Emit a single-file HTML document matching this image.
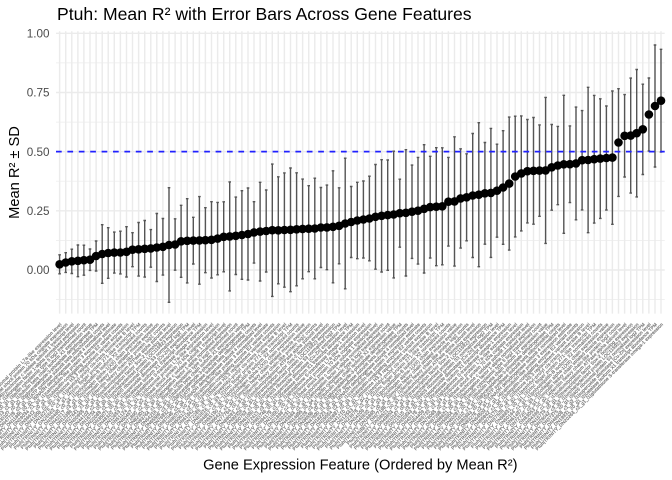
<!DOCTYPE html>
<html><head><meta charset="utf-8"><style>html,body{margin:0;padding:0;background:#fff}svg{display:block}</style></head>
<body>
<svg xmlns="http://www.w3.org/2000/svg" width="672" height="480" viewBox="0 0 672 480" font-family="'Liberation Sans', Arial, sans-serif">
<rect width="672" height="480" fill="#fff"/>
<path d="M56 299.6H664.7M56 240.4H664.7M56 181.2H664.7M56 122.1H664.7M56 62.9H664.7" stroke="#EBEBEB" stroke-width="0.71" fill="none"/>
<path d="M56 270H664.7M56 210.8H664.7M56 151.7H664.7M56 92.5H664.7M56 33.3H664.7" stroke="#EBEBEB" stroke-width="1.42" fill="none"/>
<path stroke="#EBEBEB" stroke-width="1.42" fill="none" d="M59.6 31.3V313.6M65.7 31.3V313.6M71.8 31.3V313.6M77.9 31.3V313.6M83.9 31.3V313.6M90 31.3V313.6M96.1 31.3V313.6M102.2 31.3V313.6M108.2 31.3V313.6M114.3 31.3V313.6M120.4 31.3V313.6M126.5 31.3V313.6M132.5 31.3V313.6M138.6 31.3V313.6M144.7 31.3V313.6M150.8 31.3V313.6M156.8 31.3V313.6M162.9 31.3V313.6M169 31.3V313.6M175.1 31.3V313.6M181.1 31.3V313.6M187.2 31.3V313.6M193.3 31.3V313.6M199.4 31.3V313.6M205.4 31.3V313.6M211.5 31.3V313.6M217.6 31.3V313.6M223.7 31.3V313.6M229.7 31.3V313.6M235.8 31.3V313.6M241.9 31.3V313.6M248 31.3V313.6M254 31.3V313.6M260.1 31.3V313.6M266.2 31.3V313.6M272.3 31.3V313.6M278.3 31.3V313.6M284.4 31.3V313.6M290.5 31.3V313.6M296.6 31.3V313.6M302.6 31.3V313.6M308.7 31.3V313.6M314.8 31.3V313.6M320.9 31.3V313.6M326.9 31.3V313.6M333 31.3V313.6M339.1 31.3V313.6M345.2 31.3V313.6M351.2 31.3V313.6M357.3 31.3V313.6M363.4 31.3V313.6M369.4 31.3V313.6M375.5 31.3V313.6M381.6 31.3V313.6M387.7 31.3V313.6M393.7 31.3V313.6M399.8 31.3V313.6M405.9 31.3V313.6M412 31.3V313.6M418 31.3V313.6M424.1 31.3V313.6M430.2 31.3V313.6M436.3 31.3V313.6M442.3 31.3V313.6M448.4 31.3V313.6M454.5 31.3V313.6M460.6 31.3V313.6M466.6 31.3V313.6M472.7 31.3V313.6M478.8 31.3V313.6M484.9 31.3V313.6M490.9 31.3V313.6M497 31.3V313.6M503.1 31.3V313.6M509.2 31.3V313.6M515.2 31.3V313.6M521.3 31.3V313.6M527.4 31.3V313.6M533.5 31.3V313.6M539.5 31.3V313.6M545.6 31.3V313.6M551.7 31.3V313.6M557.8 31.3V313.6M563.8 31.3V313.6M569.9 31.3V313.6M576 31.3V313.6M582.1 31.3V313.6M588.1 31.3V313.6M594.2 31.3V313.6M600.3 31.3V313.6M606.4 31.3V313.6M612.4 31.3V313.6M618.5 31.3V313.6M624.6 31.3V313.6M630.7 31.3V313.6M636.7 31.3V313.6M642.8 31.3V313.6M648.9 31.3V313.6M655 31.3V313.6M661 31.3V313.6"/>
<path stroke="#555555" stroke-width="1.4" fill="none" d="
M59.6 254.8V273.8m-1.3 0h2.6M59.6 254.8m-1.3 0h2.6
M65.7 252.7V272.4m-1.3 0h2.6M65.7 252.7m-1.3 0h2.6
M71.8 249.2V273.5m-1.3 0h2.6M71.8 249.2m-1.3 0h2.6
M77.9 245V276.7m-1.3 0h2.6M77.9 245m-1.3 0h2.6
M83.9 245.2V275.2m-1.3 0h2.6M83.9 245.2m-1.3 0h2.6
M90 249V270.4m-1.3 0h2.6M90 249m-1.3 0h2.6
M96.1 241V271m-1.3 0h2.6M96.1 241m-1.3 0h2.6
M102.2 224.7V283.3m-1.3 0h2.6M102.2 224.7m-1.3 0h2.6
M108.2 227.7V278.3m-1.3 0h2.6M108.2 227.7m-1.3 0h2.6
M114.3 232.1V273.1m-1.3 0h2.6M114.3 232.1m-1.3 0h2.6
M120.4 231.2V273.9m-1.3 0h2.6M120.4 231.2m-1.3 0h2.6
M126.5 226.7V277m-1.3 0h2.6M126.5 226.7m-1.3 0h2.6
M132.5 232.7V266.7m-1.3 0h2.6M132.5 232.7m-1.3 0h2.6
M138.6 222.5V276.1m-1.3 0h2.6M138.6 222.5m-1.3 0h2.6
M144.7 220.5V277.1m-1.3 0h2.6M144.7 220.5m-1.3 0h2.6
M150.8 229.6V267.2m-1.3 0h2.6M150.8 229.6m-1.3 0h2.6
M156.8 213.5V281.5m-1.3 0h2.6M156.8 213.5m-1.3 0h2.6
M162.9 218.5V275.1m-1.3 0h2.6M162.9 218.5m-1.3 0h2.6
M169 187.7V302.3m-1.3 0h2.6M169 187.7m-1.3 0h2.6
M175.1 218.8V270.2m-1.3 0h2.6M175.1 218.8m-1.3 0h2.6
M181.1 205.3V277.3m-1.3 0h2.6M181.1 205.3m-1.3 0h2.6
M187.2 198.7V282.9m-1.3 0h2.6M187.2 198.7m-1.3 0h2.6
M193.3 217.3V264m-1.3 0h2.6M193.3 217.3m-1.3 0h2.6
M199.4 196.6V284.2m-1.3 0h2.6M199.4 196.6m-1.3 0h2.6
M205.4 207.7V272.7m-1.3 0h2.6M205.4 207.7m-1.3 0h2.6
M211.5 201.7V278m-1.3 0h2.6M211.5 201.7m-1.3 0h2.6
M217.6 202.4V274.8m-1.3 0h2.6M217.6 202.4m-1.3 0h2.6
M223.7 201.8V271.8m-1.3 0h2.6M223.7 201.8m-1.3 0h2.6
M229.7 181.9V290.9m-1.3 0h2.6M229.7 181.9m-1.3 0h2.6
M235.8 197.1V274.5m-1.3 0h2.6M235.8 197.1m-1.3 0h2.6
M241.9 190.7V279.3m-1.3 0h2.6M241.9 190.7m-1.3 0h2.6
M248 188V280m-1.3 0h2.6M248 188m-1.3 0h2.6
M254 201.7V263.1m-1.3 0h2.6M254 201.7m-1.3 0h2.6
M260.1 182.3V281m-1.3 0h2.6M260.1 182.3m-1.3 0h2.6
M266.2 190V272m-1.3 0h2.6M266.2 190m-1.3 0h2.6
M272.3 164.1V296.4m-1.3 0h2.6M272.3 164.1m-1.3 0h2.6
M278.3 176.8V283.8m-1.3 0h2.6M278.3 176.8m-1.3 0h2.6
M284.4 172.9V287.2m-1.3 0h2.6M284.4 172.9m-1.3 0h2.6
M290.5 168V291.7m-1.3 0h2.6M290.5 168m-1.3 0h2.6
M296.6 172.8V285.8m-1.3 0h2.6M296.6 172.8m-1.3 0h2.6
M302.6 179.1V278.8m-1.3 0h2.6M302.6 179.1m-1.3 0h2.6
M308.7 185.7V271.7m-1.3 0h2.6M308.7 185.7m-1.3 0h2.6
M314.8 178.2V278.8m-1.3 0h2.6M314.8 178.2m-1.3 0h2.6
M320.9 187.5V267.5m-1.3 0h2.6M320.9 187.5m-1.3 0h2.6
M326.9 185.1V269.7m-1.3 0h2.6M326.9 185.1m-1.3 0h2.6
M333 170.8V282.8m-1.3 0h2.6M333 170.8m-1.3 0h2.6
M339.1 187.8V263.8m-1.3 0h2.6M339.1 187.8m-1.3 0h2.6
M345.2 158.2V288.8m-1.3 0h2.6M345.2 158.2m-1.3 0h2.6
M351.2 186.5V257.5m-1.3 0h2.6M351.2 186.5m-1.3 0h2.6
M357.3 182.3V258.7m-1.3 0h2.6M357.3 182.3m-1.3 0h2.6
M363.4 181V258m-1.3 0h2.6M363.4 181m-1.3 0h2.6
M369.4 176.2V260.8m-1.3 0h2.6M369.4 176.2m-1.3 0h2.6
M375.5 164.5V269.2m-1.3 0h2.6M375.5 164.5m-1.3 0h2.6
M381.6 159.7V272m-1.3 0h2.6M381.6 159.7m-1.3 0h2.6
M387.7 160V270.3m-1.3 0h2.6M387.7 160m-1.3 0h2.6
M393.7 151.2V277.9m-1.3 0h2.6M393.7 151.2m-1.3 0h2.6
M399.8 179.2V247.2m-1.3 0h2.6M399.8 179.2m-1.3 0h2.6
M405.9 149.7V276m-1.3 0h2.6M405.9 149.7m-1.3 0h2.6
M412 165.1V258.4m-1.3 0h2.6M412 165.1m-1.3 0h2.6
M418 157.4V264.1m-1.3 0h2.6M418 157.4m-1.3 0h2.6
M424.1 144.7V273m-1.3 0h2.6M424.1 144.7m-1.3 0h2.6
M430.2 156.3V258m-1.3 0h2.6M430.2 156.3m-1.3 0h2.6
M436.3 147.7V265.7m-1.3 0h2.6M436.3 147.7m-1.3 0h2.6
M442.3 147.8V264.8m-1.3 0h2.6M442.3 147.8m-1.3 0h2.6
M448.4 157.4V246.1m-1.3 0h2.6M448.4 157.4m-1.3 0h2.6
M454.5 136.8V266.1m-1.3 0h2.6M454.5 136.8m-1.3 0h2.6
M460.6 148.8V248.1m-1.3 0h2.6M460.6 148.8m-1.3 0h2.6
M466.6 153.8V240.8m-1.3 0h2.6M466.6 153.8m-1.3 0h2.6
M472.7 133.5V257.5m-1.3 0h2.6M472.7 133.5m-1.3 0h2.6
M478.8 122.7V266.7m-1.3 0h2.6M478.8 122.7m-1.3 0h2.6
M484.9 142.5V244.2m-1.3 0h2.6M484.9 142.5m-1.3 0h2.6
M490.9 128.4V257.4m-1.3 0h2.6M490.9 128.4m-1.3 0h2.6
M497 144.2V237.2m-1.3 0h2.6M497 144.2m-1.3 0h2.6
M503.1 130.7V244.3m-1.3 0h2.6M503.1 130.7m-1.3 0h2.6
M509.2 117.1V250.1m-1.3 0h2.6M509.2 117.1m-1.3 0h2.6
M515.2 116.2V236.9m-1.3 0h2.6M515.2 116.2m-1.3 0h2.6
M521.3 115.9V230.9m-1.3 0h2.6M521.3 115.9m-1.3 0h2.6
M527.4 119.5V222.9m-1.3 0h2.6M527.4 119.5m-1.3 0h2.6
M533.5 117.5V224.2m-1.3 0h2.6M533.5 117.5m-1.3 0h2.6
M539.5 124.9V216.3m-1.3 0h2.6M539.5 124.9m-1.3 0h2.6
M545.6 97.4V243.4m-1.3 0h2.6M545.6 97.4m-1.3 0h2.6
M551.7 124.5V210.2m-1.3 0h2.6M551.7 124.5m-1.3 0h2.6
M557.8 126.4V204.7m-1.3 0h2.6M557.8 126.4m-1.3 0h2.6
M563.8 95.3V233.3m-1.3 0h2.6M563.8 95.3m-1.3 0h2.6
M569.9 125.9V202.6m-1.3 0h2.6M569.9 125.9m-1.3 0h2.6
M576 107.1V219.8m-1.3 0h2.6M576 107.1m-1.3 0h2.6
M582.1 110.6V209.9m-1.3 0h2.6M582.1 110.6m-1.3 0h2.6
M588.1 87.3V232.7m-1.3 0h2.6M588.1 87.3m-1.3 0h2.6
M594.2 95.4V223.1m-1.3 0h2.6M594.2 95.4m-1.3 0h2.6
M600.3 98.8V218.4m-1.3 0h2.6M600.3 98.8m-1.3 0h2.6
M606.4 106V210m-1.3 0h2.6M606.4 106m-1.3 0h2.6
M612.4 91V224.3m-1.3 0h2.6M612.4 91m-1.3 0h2.6
M618.5 88.7V196.4m-1.3 0h2.6M618.5 88.7m-1.3 0h2.6
M624.6 94.6V177m-1.3 0h2.6M624.6 94.6m-1.3 0h2.6
M630.7 78.1V193.1m-1.3 0h2.6M630.7 78.1m-1.3 0h2.6
M636.7 69.5V196.9m-1.3 0h2.6M636.7 69.5m-1.3 0h2.6
M642.8 84.2V174.5m-1.3 0h2.6M642.8 84.2m-1.3 0h2.6
M648.9 78V151m-1.3 0h2.6M648.9 78m-1.3 0h2.6
M655 45V167m-1.3 0h2.6M655 45m-1.3 0h2.6
M661 49.3V152.1m-1.3 0h2.6M661 49.3m-1.3 0h2.6"/>
<g fill="#000">
<circle cx="59.6" cy="264.3" r="4.3"/><circle cx="65.7" cy="262.5" r="4.3"/><circle cx="71.8" cy="261.3" r="4.3"/><circle cx="77.9" cy="260.8" r="4.3"/><circle cx="83.9" cy="260.2" r="4.3"/><circle cx="90" cy="259.7" r="4.3"/><circle cx="96.1" cy="256" r="4.3"/><circle cx="102.2" cy="254" r="4.3"/><circle cx="108.2" cy="253" r="4.3"/><circle cx="114.3" cy="252.6" r="4.3"/>
<circle cx="120.4" cy="252.5" r="4.3"/><circle cx="126.5" cy="251.8" r="4.3"/><circle cx="132.5" cy="249.7" r="4.3"/><circle cx="138.6" cy="249.3" r="4.3"/><circle cx="144.7" cy="248.8" r="4.3"/><circle cx="150.8" cy="248.4" r="4.3"/><circle cx="156.8" cy="247.5" r="4.3"/><circle cx="162.9" cy="246.8" r="4.3"/><circle cx="169" cy="245" r="4.3"/><circle cx="175.1" cy="244.5" r="4.3"/>
<circle cx="181.1" cy="241.3" r="4.3"/><circle cx="187.2" cy="240.8" r="4.3"/><circle cx="193.3" cy="240.6" r="4.3"/><circle cx="199.4" cy="240.4" r="4.3"/><circle cx="205.4" cy="240.2" r="4.3"/><circle cx="211.5" cy="239.8" r="4.3"/><circle cx="217.6" cy="238.6" r="4.3"/><circle cx="223.7" cy="236.8" r="4.3"/><circle cx="229.7" cy="236.4" r="4.3"/><circle cx="235.8" cy="235.8" r="4.3"/>
<circle cx="241.9" cy="235" r="4.3"/><circle cx="248" cy="234" r="4.3"/><circle cx="254" cy="232.4" r="4.3"/><circle cx="260.1" cy="231.6" r="4.3"/><circle cx="266.2" cy="231" r="4.3"/><circle cx="272.3" cy="230.2" r="4.3"/><circle cx="278.3" cy="230.3" r="4.3"/><circle cx="284.4" cy="230" r="4.3"/><circle cx="290.5" cy="229.8" r="4.3"/><circle cx="296.6" cy="229.3" r="4.3"/>
<circle cx="302.6" cy="228.9" r="4.3"/><circle cx="308.7" cy="228.7" r="4.3"/><circle cx="314.8" cy="228.5" r="4.3"/><circle cx="320.9" cy="227.5" r="4.3"/><circle cx="326.9" cy="227.4" r="4.3"/><circle cx="333" cy="226.8" r="4.3"/><circle cx="339.1" cy="225.8" r="4.3"/><circle cx="345.2" cy="223.5" r="4.3"/><circle cx="351.2" cy="222" r="4.3"/><circle cx="357.3" cy="220.5" r="4.3"/>
<circle cx="363.4" cy="219.5" r="4.3"/><circle cx="369.4" cy="218.5" r="4.3"/><circle cx="375.5" cy="216.8" r="4.3"/><circle cx="381.6" cy="215.8" r="4.3"/><circle cx="387.7" cy="215.1" r="4.3"/><circle cx="393.7" cy="214.5" r="4.3"/><circle cx="399.8" cy="213.2" r="4.3"/><circle cx="405.9" cy="212.8" r="4.3"/><circle cx="412" cy="211.7" r="4.3"/><circle cx="418" cy="210.7" r="4.3"/>
<circle cx="424.1" cy="208.8" r="4.3"/><circle cx="430.2" cy="207.1" r="4.3"/><circle cx="436.3" cy="206.7" r="4.3"/><circle cx="442.3" cy="206.3" r="4.3"/><circle cx="448.4" cy="201.7" r="4.3"/><circle cx="454.5" cy="201.4" r="4.3"/><circle cx="460.6" cy="198.4" r="4.3"/><circle cx="466.6" cy="197.3" r="4.3"/><circle cx="472.7" cy="195.5" r="4.3"/><circle cx="478.8" cy="194.7" r="4.3"/>
<circle cx="484.9" cy="193.3" r="4.3"/><circle cx="490.9" cy="192.9" r="4.3"/><circle cx="497" cy="190.7" r="4.3"/><circle cx="503.1" cy="187.5" r="4.3"/><circle cx="509.2" cy="183.6" r="4.3"/><circle cx="515.2" cy="176.5" r="4.3"/><circle cx="521.3" cy="173.4" r="4.3"/><circle cx="527.4" cy="171.2" r="4.3"/><circle cx="533.5" cy="170.8" r="4.3"/><circle cx="539.5" cy="170.6" r="4.3"/>
<circle cx="545.6" cy="170.4" r="4.3"/><circle cx="551.7" cy="167.3" r="4.3"/><circle cx="557.8" cy="165.5" r="4.3"/><circle cx="563.8" cy="164.3" r="4.3"/><circle cx="569.9" cy="164.2" r="4.3"/><circle cx="576" cy="163.4" r="4.3"/><circle cx="582.1" cy="160.2" r="4.3"/><circle cx="588.1" cy="160" r="4.3"/><circle cx="594.2" cy="159.2" r="4.3"/><circle cx="600.3" cy="158.6" r="4.3"/>
<circle cx="606.4" cy="158" r="4.3"/><circle cx="612.4" cy="157.6" r="4.3"/><circle cx="618.5" cy="142.5" r="4.3"/><circle cx="624.6" cy="135.8" r="4.3"/><circle cx="630.7" cy="135.6" r="4.3"/><circle cx="636.7" cy="133.2" r="4.3"/><circle cx="642.8" cy="129.3" r="4.3"/><circle cx="648.9" cy="114.5" r="4.3"/><circle cx="655" cy="106" r="4.3"/><circle cx="661" cy="100.7" r="4.3"/>
</g>
<path d="M56 151.6H664.7" stroke="#2020ff" stroke-width="1.7" stroke-dasharray="5.7 5.7" fill="none"/>
<g fill="#4D4D4D" font-size="11.7" text-anchor="end">
<text x="49.5" y="37.5">1.00</text>
<text x="49.5" y="96.7">0.75</text>
<text x="49.5" y="155.9">0.50</text>
<text x="49.5" y="215">0.25</text>
<text x="49.5" y="274.2">0.00</text>
</g>
<text x="57" y="20" font-size="17.6" fill="#000">Ptuh: Mean R² with Error Bars Across Gene Features</text>
<text transform="translate(19 172.5) rotate(-90)" text-anchor="middle" font-size="14.67" fill="#000">Mean R² ± SD</text>
<text x="360.3" y="469.5" text-anchor="middle" font-size="14.67" fill="#000">Gene Expression Feature (Ordered by Mean R²)</text>
<g fill="#4a4a4a" font-size="4.6" text-anchor="end" stroke="#8a8a8a" stroke-width="0.25">
<text transform="translate(59.6 322.5) rotate(-45)" y="3.2" textLength="176" lengthAdjust="spacing">Ptuh|TRINITY_DN10234_c0_g1_i2|ribosomal protein L7a-like expression level</text>
<text transform="translate(65.7 322.5) rotate(-45)" y="3.2" textLength="177" lengthAdjust="spacing">Ptuh|TRINITY_DN20871_c1_g2_i1|heat shock protein 70 kDa cognate expression</text>
<text transform="translate(71.8 322.5) rotate(-45)" y="3.2" textLength="175" lengthAdjust="spacing">Ptuh|TRINITY_DN31455_c0_g3_i4|cytochrome c oxidase subunit 1 transcript level</text>
<text transform="translate(77.9 322.5) rotate(-45)" y="3.2" textLength="178" lengthAdjust="spacing">Ptuh|TRINITY_DN40012_c2_g1_i1|elongation factor 1-alpha normalized expression</text>
<text transform="translate(83.9 322.5) rotate(-45)" y="3.2" textLength="176" lengthAdjust="spacing">Ptuh|TRINITY_DN15590_c0_g1_i3|actin cytoplasmic type 5 log2 transformed count</text>
<text transform="translate(90 322.5) rotate(-45)" y="3.2" textLength="177" lengthAdjust="spacing">Ptuh|TRINITY_DN28813_c1_g1_i1|tubulin beta chain isoform X1 expression value</text>
<text transform="translate(96.1 322.5) rotate(-45)" y="3.2" textLength="175" lengthAdjust="spacing">Ptuh|TRINITY_DN33107_c0_g2_i2|glyceraldehyde-3-phosphate dehydrogenase TPM</text>
<text transform="translate(102.2 322.5) rotate(-45)" y="3.2" textLength="178" lengthAdjust="spacing">Ptuh|TRINITY_DN47729_c3_g1_i1|ATP synthase subunit beta mitochondrial counts</text>
<text transform="translate(108.2 322.5) rotate(-45)" y="3.2" textLength="176" lengthAdjust="spacing">Ptuh|TRINITY_DN11846_c0_g1_i5|NADH dehydrogenase subunit 4 normalized level</text>
<text transform="translate(114.3 322.5) rotate(-45)" y="3.2" textLength="177" lengthAdjust="spacing">Ptuh|TRINITY_DN29034_c1_g3_i1|calmodulin-like protein 3 expression estimate</text>
<text transform="translate(120.4 322.5) rotate(-45)" y="3.2" textLength="176" lengthAdjust="spacing">Ptuh|TRINITY_DN36612_c0_g1_i2|ubiquitin-conjugating enzyme E2 variant counts</text>
<text transform="translate(126.5 322.5) rotate(-45)" y="3.2" textLength="178" lengthAdjust="spacing">Ptuh|TRINITY_DN41958_c2_g2_i1|histone H3.3 replacement variant expression</text>
<text transform="translate(132.5 322.5) rotate(-45)" y="3.2" textLength="175" lengthAdjust="spacing">Ptuh|TRINITY_DN18275_c0_g1_i1|peptidyl-prolyl cis-trans isomerase B level</text>
<text transform="translate(138.6 322.5) rotate(-45)" y="3.2" textLength="177" lengthAdjust="spacing">Ptuh|TRINITY_DN25563_c1_g1_i4|zinc finger protein 271-like transcript TPM</text>
<text transform="translate(144.7 322.5) rotate(-45)" y="3.2" textLength="176" lengthAdjust="spacing">Ptuh|TRINITY_DN39480_c0_g4_i1|polyubiquitin-B isoform X2 normalized counts</text>
<text transform="translate(150.8 322.5) rotate(-45)" y="3.2" textLength="178" lengthAdjust="spacing">Ptuh|TRINITY_DN42217_c3_g1_i2|collagen alpha-1(XII) chain expression value</text>
<text transform="translate(156.8 322.5) rotate(-45)" y="3.2" textLength="175" lengthAdjust="spacing">Ptuh|TRINITY_DN13398_c0_g1_i1|myosin heavy chain striated muscle expression</text>
<text transform="translate(162.9 322.5) rotate(-45)" y="3.2" textLength="177" lengthAdjust="spacing">Ptuh|TRINITY_DN27641_c1_g2_i3|ferritin heavy chain-like protein log2 counts</text>
<text transform="translate(169 322.5) rotate(-45)" y="3.2" textLength="176" lengthAdjust="spacing">Ptuh|TRINITY_DN30955_c0_g1_i2|sodium/potassium ATPase alpha subunit level</text>
<text transform="translate(175.1 322.5) rotate(-45)" y="3.2" textLength="178" lengthAdjust="spacing">Ptuh|TRINITY_DN44102_c2_g1_i1|transcription factor Sox-2 homolog expression</text>
<text transform="translate(181.1 322.5) rotate(-45)" y="3.2" textLength="176" lengthAdjust="spacing">Ptuh|TRINITY_DN16734_c0_g3_i1|uncharacterized protein LOC115923 expression</text>
<text transform="translate(187.2 322.5) rotate(-45)" y="3.2" textLength="177" lengthAdjust="spacing">Ptuh|TRINITY_DN22089_c1_g1_i2|40S ribosomal protein S3 normalized log2 TPM</text>
<text transform="translate(193.3 322.5) rotate(-45)" y="3.2" textLength="175" lengthAdjust="spacing">Ptuh|TRINITY_DN35871_c0_g2_i1|superoxide dismutase [Cu-Zn] expression level</text>
<text transform="translate(199.4 322.5) rotate(-45)" y="3.2" textLength="178" lengthAdjust="spacing">Ptuh|TRINITY_DN48320_c3_g1_i4|catalase isoform X1 transcript abundance TPM</text>
<text transform="translate(205.4 322.5) rotate(-45)" y="3.2" textLength="176" lengthAdjust="spacing">Ptuh|TRINITY_DN12653_c0_g1_i1|glutathione S-transferase omega-1 expression</text>
<text transform="translate(211.5 322.5) rotate(-45)" y="3.2" textLength="177" lengthAdjust="spacing">Ptuh|TRINITY_DN51124_c1_g1_i1|ribosomal protein L7a-like expression level</text>
<text transform="translate(217.6 322.5) rotate(-45)" y="3.2" textLength="176" lengthAdjust="spacing">Ptuh|TRINITY_DN60457_c0_g2_i3|heat shock protein 70 kDa cognate expression</text>
<text transform="translate(223.7 322.5) rotate(-45)" y="3.2" textLength="178" lengthAdjust="spacing">Ptuh|TRINITY_DN71890_c2_g1_i2|cytochrome c oxidase subunit 1 transcript level</text>
<text transform="translate(229.7 322.5) rotate(-45)" y="3.2" textLength="175" lengthAdjust="spacing">Ptuh|TRINITY_DN82301_c0_g3_i1|elongation factor 1-alpha normalized expression</text>
<text transform="translate(235.8 322.5) rotate(-45)" y="3.2" textLength="177" lengthAdjust="spacing">Ptuh|TRINITY_DN93764_c1_g1_i5|actin cytoplasmic type 5 log2 transformed count</text>
<text transform="translate(241.9 322.5) rotate(-45)" y="3.2" textLength="176" lengthAdjust="spacing">Ptuh|TRINITY_DN54218_c0_g1_i1|tubulin beta chain isoform X1 expression value</text>
<text transform="translate(248 322.5) rotate(-45)" y="3.2" textLength="178" lengthAdjust="spacing">Ptuh|TRINITY_DN65589_c3_g2_i2|glyceraldehyde-3-phosphate dehydrogenase TPM</text>
<text transform="translate(254 322.5) rotate(-45)" y="3.2" textLength="175" lengthAdjust="spacing">Ptuh|TRINITY_DN76932_c0_g1_i1|ATP synthase subunit beta mitochondrial counts</text>
<text transform="translate(260.1 322.5) rotate(-45)" y="3.2" textLength="177" lengthAdjust="spacing">Ptuh|TRINITY_DN87045_c1_g4_i2|NADH dehydrogenase subunit 4 normalized level</text>
<text transform="translate(266.2 322.5) rotate(-45)" y="3.2" textLength="176" lengthAdjust="spacing">Ptuh|TRINITY_DN98376_c0_g1_i3|calmodulin-like protein 3 expression estimate</text>
<text transform="translate(272.3 322.5) rotate(-45)" y="3.2" textLength="178" lengthAdjust="spacing">Ptuh|TRINITY_DN50613_c2_g1_i1|ubiquitin-conjugating enzyme E2 variant counts</text>
<text transform="translate(278.3 322.5) rotate(-45)" y="3.2" textLength="176" lengthAdjust="spacing">Ptuh|TRINITY_DN61942_c0_g2_i1|histone H3.3 replacement variant expression</text>
<text transform="translate(284.4 322.5) rotate(-45)" y="3.2" textLength="177" lengthAdjust="spacing">Ptuh|TRINITY_DN72285_c1_g1_i4|peptidyl-prolyl cis-trans isomerase B level</text>
<text transform="translate(290.5 322.5) rotate(-45)" y="3.2" textLength="175" lengthAdjust="spacing">Ptuh|TRINITY_DN83516_c0_g3_i2|zinc finger protein 271-like transcript TPM</text>
<text transform="translate(296.6 322.5) rotate(-45)" y="3.2" textLength="178" lengthAdjust="spacing">Ptuh|TRINITY_DN94857_c3_g1_i1|polyubiquitin-B isoform X2 normalized counts</text>
<text transform="translate(302.6 322.5) rotate(-45)" y="3.2" textLength="176" lengthAdjust="spacing">Ptuh|TRINITY_DN55190_c0_g1_i2|collagen alpha-1(XII) chain expression value</text>
<text transform="translate(308.7 322.5) rotate(-45)" y="3.2" textLength="177" lengthAdjust="spacing">Ptuh|TRINITY_DN66421_c1_g2_i1|myosin heavy chain striated muscle expression</text>
<text transform="translate(314.8 322.5) rotate(-45)" y="3.2" textLength="176" lengthAdjust="spacing">Ptuh|TRINITY_DN77764_c0_g1_i3|ferritin heavy chain-like protein log2 counts</text>
<text transform="translate(320.9 322.5) rotate(-45)" y="3.2" textLength="178" lengthAdjust="spacing">Ptuh|TRINITY_DN88093_c2_g3_i1|sodium/potassium ATPase alpha subunit level</text>
<text transform="translate(326.9 322.5) rotate(-45)" y="3.2" textLength="175" lengthAdjust="spacing">Ptuh|TRINITY_DN99328_c0_g1_i2|transcription factor Sox-2 homolog expression</text>
<text transform="translate(333 322.5) rotate(-45)" y="3.2" textLength="177" lengthAdjust="spacing">Ptuh|TRINITY_DN50759_c1_g1_i1|uncharacterized protein LOC115923 expression</text>
<text transform="translate(339.1 322.5) rotate(-45)" y="3.2" textLength="176" lengthAdjust="spacing">Ptuh|TRINITY_DN61080_c0_g2_i4|40S ribosomal protein S3 normalized log2 TPM</text>
<text transform="translate(345.2 322.5) rotate(-45)" y="3.2" textLength="178" lengthAdjust="spacing">Ptuh|TRINITY_DN72413_c3_g1_i1|superoxide dismutase [Cu-Zn] expression level</text>
<text transform="translate(351.2 322.5) rotate(-45)" y="3.2" textLength="175" lengthAdjust="spacing">Ptuh|TRINITY_DN83746_c0_g1_i2|catalase isoform X1 transcript abundance TPM</text>
<text transform="translate(357.3 322.5) rotate(-45)" y="3.2" textLength="177" lengthAdjust="spacing">Ptuh|TRINITY_DN94179_c1_g3_i1|glutathione S-transferase omega-1 expression</text>
<text transform="translate(363.4 322.5) rotate(-45)" y="3.2" textLength="176" lengthAdjust="spacing">Ptuh|TRINITY_DN10567_c0_g1_i3|ribosomal protein L7a-like expression level</text>
<text transform="translate(369.4 322.5) rotate(-45)" y="3.2" textLength="178" lengthAdjust="spacing">Ptuh|TRINITY_DN21898_c2_g1_i1|heat shock protein 70 kDa cognate expression</text>
<text transform="translate(375.5 322.5) rotate(-45)" y="3.2" textLength="176" lengthAdjust="spacing">Ptuh|TRINITY_DN32231_c0_g2_i2|cytochrome c oxidase subunit 1 transcript level</text>
<text transform="translate(381.6 322.5) rotate(-45)" y="3.2" textLength="177" lengthAdjust="spacing">Ptuh|TRINITY_DN43564_c1_g1_i1|elongation factor 1-alpha normalized expression</text>
<text transform="translate(387.7 322.5) rotate(-45)" y="3.2" textLength="175" lengthAdjust="spacing">Ptuh|TRINITY_DN14895_c0_g4_i1|actin cytoplasmic type 5 log2 transformed count</text>
<text transform="translate(393.7 322.5) rotate(-45)" y="3.2" textLength="178" lengthAdjust="spacing">Ptuh|TRINITY_DN25226_c3_g1_i2|tubulin beta chain isoform X1 expression value</text>
<text transform="translate(399.8 322.5) rotate(-45)" y="3.2" textLength="176" lengthAdjust="spacing">Ptuh|TRINITY_DN36559_c0_g1_i1|glyceraldehyde-3-phosphate dehydrogenase TPM</text>
<text transform="translate(405.9 322.5) rotate(-45)" y="3.2" textLength="177" lengthAdjust="spacing">Ptuh|TRINITY_DN47890_c1_g2_i3|ATP synthase subunit beta mitochondrial counts</text>
<text transform="translate(412 322.5) rotate(-45)" y="3.2" textLength="176" lengthAdjust="spacing">Ptuh|TRINITY_DN18223_c0_g1_i2|NADH dehydrogenase subunit 4 normalized level</text>
<text transform="translate(418 322.5) rotate(-45)" y="3.2" textLength="178" lengthAdjust="spacing">Ptuh|TRINITY_DN29554_c2_g1_i1|calmodulin-like protein 3 expression estimate</text>
<text transform="translate(424.1 322.5) rotate(-45)" y="3.2" textLength="175" lengthAdjust="spacing">Ptuh|TRINITY_DN30887_c0_g3_i1|ubiquitin-conjugating enzyme E2 variant counts</text>
<text transform="translate(430.2 322.5) rotate(-45)" y="3.2" textLength="177" lengthAdjust="spacing">Ptuh|TRINITY_DN41210_c1_g1_i4|histone H3.3 replacement variant expression</text>
<text transform="translate(436.3 322.5) rotate(-45)" y="3.2" textLength="176" lengthAdjust="spacing">Ptuh|TRINITY_DN12543_c0_g2_i1|peptidyl-prolyl cis-trans isomerase B level</text>
<text transform="translate(442.3 322.5) rotate(-45)" y="3.2" textLength="178" lengthAdjust="spacing">Ptuh|TRINITY_DN23876_c3_g1_i2|zinc finger protein 271-like transcript TPM</text>
<text transform="translate(448.4 322.5) rotate(-45)" y="3.2" textLength="175" lengthAdjust="spacing">Ptuh|TRINITY_DN34209_c0_g1_i1|polyubiquitin-B isoform X2 normalized counts</text>
<text transform="translate(454.5 322.5) rotate(-45)" y="3.2" textLength="177" lengthAdjust="spacing">Ptuh|TRINITY_DN45532_c1_g3_i2|collagen alpha-1(XII) chain expression value</text>
<text transform="translate(460.6 322.5) rotate(-45)" y="3.2" textLength="176" lengthAdjust="spacing">Ptuh|TRINITY_DN16865_c0_g1_i3|myosin heavy chain striated muscle expression</text>
<text transform="translate(466.6 322.5) rotate(-45)" y="3.2" textLength="170" lengthAdjust="spacing">Ptuh|TRINITY_DN27198_c2_g2_i1|ferritin heavy chain-like protein log2 counts</text>
<text transform="translate(472.7 322.5) rotate(-45)" y="3.2" textLength="175" lengthAdjust="spacing">Ptuh|TRINITY_DN38521_c0_g1_i1|sodium/potassium ATPase alpha subunit level</text>
<text transform="translate(478.8 322.5) rotate(-45)" y="3.2" textLength="177" lengthAdjust="spacing">Ptuh|TRINITY_DN49854_c1_g1_i2|transcription factor Sox-2 homolog expression</text>
<text transform="translate(484.9 322.5) rotate(-45)" y="3.2" textLength="176" lengthAdjust="spacing">Ptuh|TRINITY_DN10187_c0_g4_i1|uncharacterized protein LOC115923 expression</text>
<text transform="translate(490.9 322.5) rotate(-45)" y="3.2" textLength="178" lengthAdjust="spacing">Ptuh|TRINITY_DN21510_c3_g1_i3|40S ribosomal protein S3 normalized log2 TPM</text>
<text transform="translate(497 322.5) rotate(-45)" y="3.2" textLength="175" lengthAdjust="spacing">Ptuh|TRINITY_DN32843_c0_g2_i1|superoxide dismutase [Cu-Zn] expression level</text>
<text transform="translate(503.1 322.5) rotate(-45)" y="3.2" textLength="177" lengthAdjust="spacing">Ptuh|TRINITY_DN43176_c1_g1_i2|catalase isoform X1 transcript abundance TPM</text>
<text transform="translate(509.2 322.5) rotate(-45)" y="3.2" textLength="176" lengthAdjust="spacing">Ptuh|TRINITY_DN54409_c0_g1_i1|glutathione S-transferase omega-1 expression</text>
<text transform="translate(515.2 322.5) rotate(-45)" y="3.2" textLength="178" lengthAdjust="spacing">Ptuh|TRINITY_DN65732_c2_g3_i2|ribosomal protein L7a-like expression level</text>
<text transform="translate(521.3 322.5) rotate(-45)" y="3.2" textLength="176" lengthAdjust="spacing">Ptuh|TRINITY_DN76065_c0_g1_i4|heat shock protein 70 kDa cognate expression</text>
<text transform="translate(527.4 322.5) rotate(-45)" y="3.2" textLength="177" lengthAdjust="spacing">Ptuh|TRINITY_DN87398_c1_g2_i1|cytochrome c oxidase subunit 1 transcript level</text>
<text transform="translate(533.5 322.5) rotate(-45)" y="3.2" textLength="175" lengthAdjust="spacing">Ptuh|TRINITY_DN98621_c0_g1_i2|elongation factor 1-alpha normalized expression</text>
<text transform="translate(539.5 322.5) rotate(-45)" y="3.2" textLength="178" lengthAdjust="spacing">Ptuh|TRINITY_DN59954_c3_g1_i1|actin cytoplasmic type 5 log2 transformed count</text>
<text transform="translate(545.6 322.5) rotate(-45)" y="3.2" textLength="176" lengthAdjust="spacing">Ptuh|TRINITY_DN60287_c0_g3_i3|tubulin beta chain isoform X1 expression value</text>
<text transform="translate(551.7 322.5) rotate(-45)" y="3.2" textLength="177" lengthAdjust="spacing">Ptuh|TRINITY_DN71610_c1_g1_i1|glyceraldehyde-3-phosphate dehydrogenase TPM</text>
<text transform="translate(557.8 322.5) rotate(-45)" y="3.2" textLength="176" lengthAdjust="spacing">Ptuh|TRINITY_DN82943_c0_g2_i2|ATP synthase subunit beta mitochondrial counts</text>
<text transform="translate(563.8 322.5) rotate(-45)" y="3.2" textLength="178" lengthAdjust="spacing">Ptuh|TRINITY_DN93276_c2_g1_i1|NADH dehydrogenase subunit 4 normalized level</text>
<text transform="translate(569.9 322.5) rotate(-45)" y="3.2" textLength="175" lengthAdjust="spacing">Ptuh|TRINITY_DN54509_c0_g1_i4|calmodulin-like protein 3 expression estimate</text>
<text transform="translate(576 322.5) rotate(-45)" y="3.2" textLength="177" lengthAdjust="spacing">Ptuh|TRINITY_DN65842_c1_g4_i1|ubiquitin-conjugating enzyme E2 variant counts</text>
<text transform="translate(582.1 322.5) rotate(-45)" y="3.2" textLength="176" lengthAdjust="spacing">Ptuh|TRINITY_DN76175_c0_g1_i2|histone H3.3 replacement variant expression</text>
<text transform="translate(588.1 322.5) rotate(-45)" y="3.2" textLength="178" lengthAdjust="spacing">Ptuh|TRINITY_DN87508_c3_g2_i1|peptidyl-prolyl cis-trans isomerase B level</text>
<text transform="translate(594.2 322.5) rotate(-45)" y="3.2" textLength="175" lengthAdjust="spacing">Ptuh|TRINITY_DN98831_c0_g1_i3|zinc finger protein 271-like transcript TPM</text>
<text transform="translate(600.3 322.5) rotate(-45)" y="3.2" textLength="177" lengthAdjust="spacing">Ptuh|TRINITY_DN50164_c1_g1_i1|polyubiquitin-B isoform X2 normalized counts</text>
<text transform="translate(606.4 322.5) rotate(-45)" y="3.2" textLength="176" lengthAdjust="spacing">Ptuh|TRINITY_DN61497_c0_g3_i2|collagen alpha-1(XII) chain expression value</text>
<text transform="translate(612.4 322.5) rotate(-45)" y="3.2" textLength="178" lengthAdjust="spacing">Ptuh|TRINITY_DN72720_c2_g1_i1|myosin heavy chain striated muscle expression</text>
<text transform="translate(618.5 322.5) rotate(-45)" y="3.2" textLength="175" lengthAdjust="spacing">Ptuh|TRINITY_DN83053_c0_g2_i4|ferritin heavy chain-like protein log2 counts</text>
<text transform="translate(624.6 322.5) rotate(-45)" y="3.2" textLength="177" lengthAdjust="spacing">Ptuh|TRINITY_DN94386_c1_g1_i1|sodium/potassium ATPase alpha subunit level</text>
<text transform="translate(630.7 322.5) rotate(-45)" y="3.2" textLength="176" lengthAdjust="spacing">Ptuh|TRINITY_DN15719_c0_g1_i2|transcription factor Sox-2 homolog expression</text>
<text transform="translate(636.7 322.5) rotate(-45)" y="3.2" textLength="178" lengthAdjust="spacing">Ptuh|TRINITY_DN26042_c3_g3_i1|uncharacterized protein LOC115923 expression</text>
<text transform="translate(642.8 322.5) rotate(-45)" y="3.2" textLength="175" lengthAdjust="spacing">Ptuh|TRINITY_DN37375_c0_g1_i3|40S ribosomal protein S3 normalized log2 TPM</text>
<text transform="translate(648.9 322.5) rotate(-45)" y="3.2" textLength="177" lengthAdjust="spacing">Ptuh|TRINITY_DN48608_c1_g2_i1|superoxide dismutase [Cu-Zn] expression level</text>
<text transform="translate(655 322.5) rotate(-45)" y="3.2" textLength="176" lengthAdjust="spacing">Ptuh|TRINITY_DN19931_c0_g1_i2|catalase isoform X1 transcript abundance TPM</text>
<text transform="translate(661 322.5) rotate(-45)" y="3.2" textLength="178" lengthAdjust="spacing">Ptuh|TRINITY_DN20264_c2_g1_i1|glutathione S-transferase omega-1 expression</text>
</g>
</svg>
</body></html>
